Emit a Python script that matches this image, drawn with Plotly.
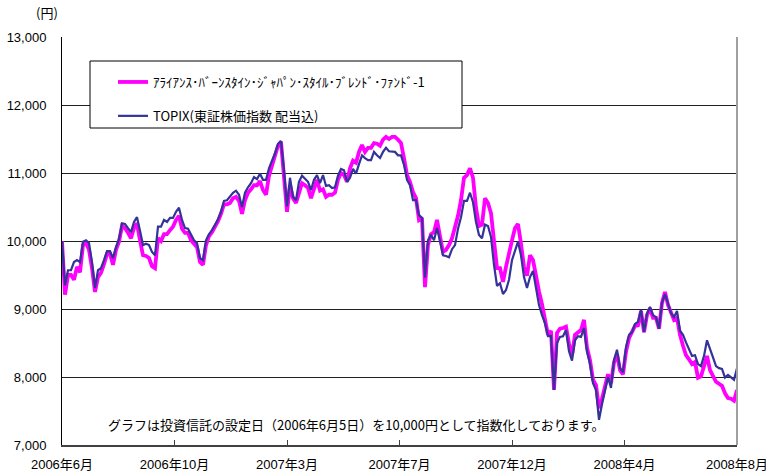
import plotly.graph_objects as go

# Category labels of the x axis (evenly spaced along the series)
x_labels = ["2006年6月", "2006年10月", "2007年3月", "2007年7月",
            "2007年12月", "2008年4月", "2008年8月"]

fund_name = "ｱﾗｲｱﾝｽ･ﾊﾞｰﾝｽﾀｲﾝ･ｼﾞｬﾊﾟﾝ･ｽﾀｲﾙ･ﾌﾞﾚﾝﾄﾞ･ﾌｧﾝﾄﾞ-1"
topix_name = "TOPIX(東証株価指数 配当込)"

fund = [
    10000, 9210, 9500, 9500, 9430, 9620, 9540, 9940, 9970, 9870,
    9600, 9250, 9470, 9530, 9660, 9810, 9810, 9650, 9870, 9990,
    10220, 10190, 10120, 10040, 10190, 10260, 10010, 9790, 9780, 9750,
    9630, 9600, 10040, 10000, 10100, 10100, 10160, 10210, 10310, 10370,
    10180, 10120, 10120, 10010, 9960, 9910, 9690, 9650, 9940, 10070,
    10130, 10210, 10290, 10400, 10540, 10540, 10560, 10630, 10650, 10590,
    10400, 10600, 10710, 10760, 10820, 10820, 10880, 10750, 10680, 10960,
    11100, 11250, 11400, 11460, 10970, 10430, 10820, 10630, 10560, 10720,
    10850, 10820, 10780, 10630, 10790, 10900, 10740, 10760, 10650, 10680,
    10680, 10710, 10900, 11000, 10970, 10870, 11070, 11180, 11150, 11310,
    11410, 11310, 11370, 11370, 11440, 11430, 11400, 11490, 11530, 11500,
    11530, 11530, 11490, 11440, 11220, 10970, 10870, 10720, 10630, 10310,
    10340, 9320, 9940, 10100, 10130, 10310, 10070, 9840, 9870, 9940,
    10040, 10190, 10370, 10600, 10930, 10970, 11070, 10930, 10490, 10220,
    10240, 10630, 10560, 10410, 9940, 9600, 9600, 9400, 9620, 9790,
    10010, 10190, 10250, 9960, 9620, 9490, 9790, 9720, 9460, 9260,
    9070, 8870, 8620, 8680, 7810, 8650, 8710, 8720, 8740, 8490,
    8320, 8620, 8660, 8690, 8840, 8430, 8250, 7960, 7880, 7540,
    7680, 7880, 8040, 7910, 8210, 8340, 8100, 8040, 8370, 8570,
    8650, 8750, 8760, 8970, 8660, 8910, 9010, 8870, 8870, 8710,
    9090, 9250, 9060, 8940, 8840, 8870, 8620, 8460, 8320, 8260,
    8190, 8220, 7990, 8010, 8160, 8310, 8100, 8010, 7930, 7900,
    7870, 7760, 7690, 7680, 7650, 7810,
]

topix = [
    10000, 9350, 9570, 9570, 9690, 9720, 9690, 9990, 10010, 9970,
    9690, 9310, 9570, 9600, 9720, 9850, 9850, 9750, 9910, 10030,
    10260, 10250, 10190, 10130, 10280, 10350, 10150, 9940, 9960, 9940,
    9840, 9790, 10210, 10210, 10310, 10280, 10340, 10340, 10430, 10490,
    10310, 10190, 10180, 10090, 10010, 9970, 9750, 9720, 10010, 10100,
    10160, 10240, 10320, 10430, 10590, 10600, 10650, 10710, 10740, 10680,
    10500, 10710, 10790, 10850, 10940, 10910, 10990, 10900, 10900, 11070,
    11180, 11290, 11430, 11470, 11040, 10510, 10930, 10650, 10600, 10870,
    10960, 10910, 10870, 10750, 10900, 10970, 10850, 10970, 10810, 10820,
    10780, 10790, 10960, 11060, 11040, 10870, 10930, 11060, 10990, 11130,
    11260, 11220, 11190, 11190, 11310, 11260, 11220, 11310, 11370, 11320,
    11310, 11310, 11260, 11260, 11120, 10900, 10820, 10600, 10600, 10380,
    10340, 9460, 10010, 10090, 10010, 10190, 10000, 9790, 9780, 9760,
    9880, 9940, 10180, 10350, 10590, 10590, 10710, 10570, 10280, 10090,
    10040, 10240, 10220, 10060, 9650, 9340, 9380, 9220, 9280, 9430,
    9720, 9870, 9990, 9790, 9470, 9310, 9470, 9560, 9280, 9060,
    8910, 8790, 8600, 8600, 7810, 8500, 8590, 8600, 8690, 8380,
    8240, 8540, 8600, 8590, 8720, 8370, 8190, 7910, 7810, 7370,
    7600, 7780, 8000, 7840, 8250, 8400, 8130, 8070, 8440, 8620,
    8660, 8780, 8810, 8990, 8660, 8930, 9030, 8910, 8880, 8710,
    9090, 9220, 9060, 8940, 8880, 8970, 8680, 8620, 8510, 8410,
    8310, 8320, 8190, 8160, 8310, 8540, 8400, 8290, 8160, 8130,
    8120, 7990, 8030, 7990, 7960, 8130,
]

y_ticks = [7000, 8000, 9000, 10000, 11000, 12000, 13000]

n = len(fund)
idx = list(range(n))
tick_pos = [k * (n - 1) / (len(x_labels) - 1) for k in range(len(x_labels))]

FONT = "Liberation Sans, Arial, Noto Sans CJK JP, sans-serif"
JFONT = "Noto Sans CJK JP, Liberation Sans, sans-serif"

fig = go.Figure()
fig.add_trace(go.Scatter(
    x=idx, y=fund, mode="lines", name=fund_name, legendgroup="a",
    line=dict(color="#FF00FF", width=3.8),
))
fig.add_trace(go.Scatter(
    x=idx, y=topix, mode="lines", name=topix_name, legendgroup="b",
    line=dict(color="#333399", width=2.2),
))

# legend frame
fig.add_shape(type="rect", xref="paper", yref="paper",
              x0=(90 - 62) / 675, x1=(462 - 62) / 675,
              y0=(445 - 128) / 408, y1=(445 - 61) / 408,
              line=dict(color="black", width=1), fillcolor="white", layer="above")
# right frame line
fig.add_shape(type="line", xref="paper", yref="paper", x0=1, x1=1, y0=0, y1=1,
              line=dict(color="#A0A0A0", width=2))

fig.add_annotation(text="(円)", xref="paper", yref="paper",
                   x=(47 - 62) / 675, y=(445 - 13) / 408, showarrow=False,
                   xanchor="center", yanchor="middle",
                   font=dict(family=JFONT, size=13, color="black"))
fig.add_annotation(text="グラフは投資信託の設定日（2006年6月5日）を10,000円として指数化しております。",
                   xref="paper", yref="paper", x=(106 - 62) / 675, y=(445 - 424) / 408,
                   xanchor="left", yanchor="middle", showarrow=False,
                   font=dict(family=JFONT, size=13, color="black"))

fig.update_layout(
    width=766, height=475,
    margin=dict(l=62, r=29, t=37, b=30, autoexpand=False),
    paper_bgcolor="white", plot_bgcolor="white",
    font=dict(family=FONT, size=13, color="black"),
    showlegend=True,
    legend=dict(x=(113 - 62) / 675, y=(445 - 67) / 408, xanchor="left", yanchor="top",
                bgcolor="rgba(0,0,0,0)", borderwidth=0, tracegroupgap=14,
                font=dict(family=JFONT, size=13, color="black"),
                traceorder="grouped"),
    xaxis=dict(range=[0, n - 1], tickvals=tick_pos, ticktext=x_labels,
               showgrid=False, zeroline=False, showline=True, automargin=False,
               linecolor="#404040", linewidth=2, ticklabeloverflow="allow",
               ticks="inside", ticklen=5, tickcolor="#404040",
               tickfont=dict(family=FONT, size=13), ticklabelstandoff=6),
    yaxis=dict(range=[7000, 13000], tickvals=y_ticks, tickformat=",d",
               showgrid=True, gridcolor="#202020", gridwidth=1, automargin=False,
               zeroline=False, showline=True, linecolor="black", linewidth=1,
               ticks="", tickfont=dict(family=FONT, size=13),
               ticklabelstandoff=12),
)

fig.write_html("out.html", config={"displayModeBar": False},
               post_script="document.body.style.margin='0px';")
